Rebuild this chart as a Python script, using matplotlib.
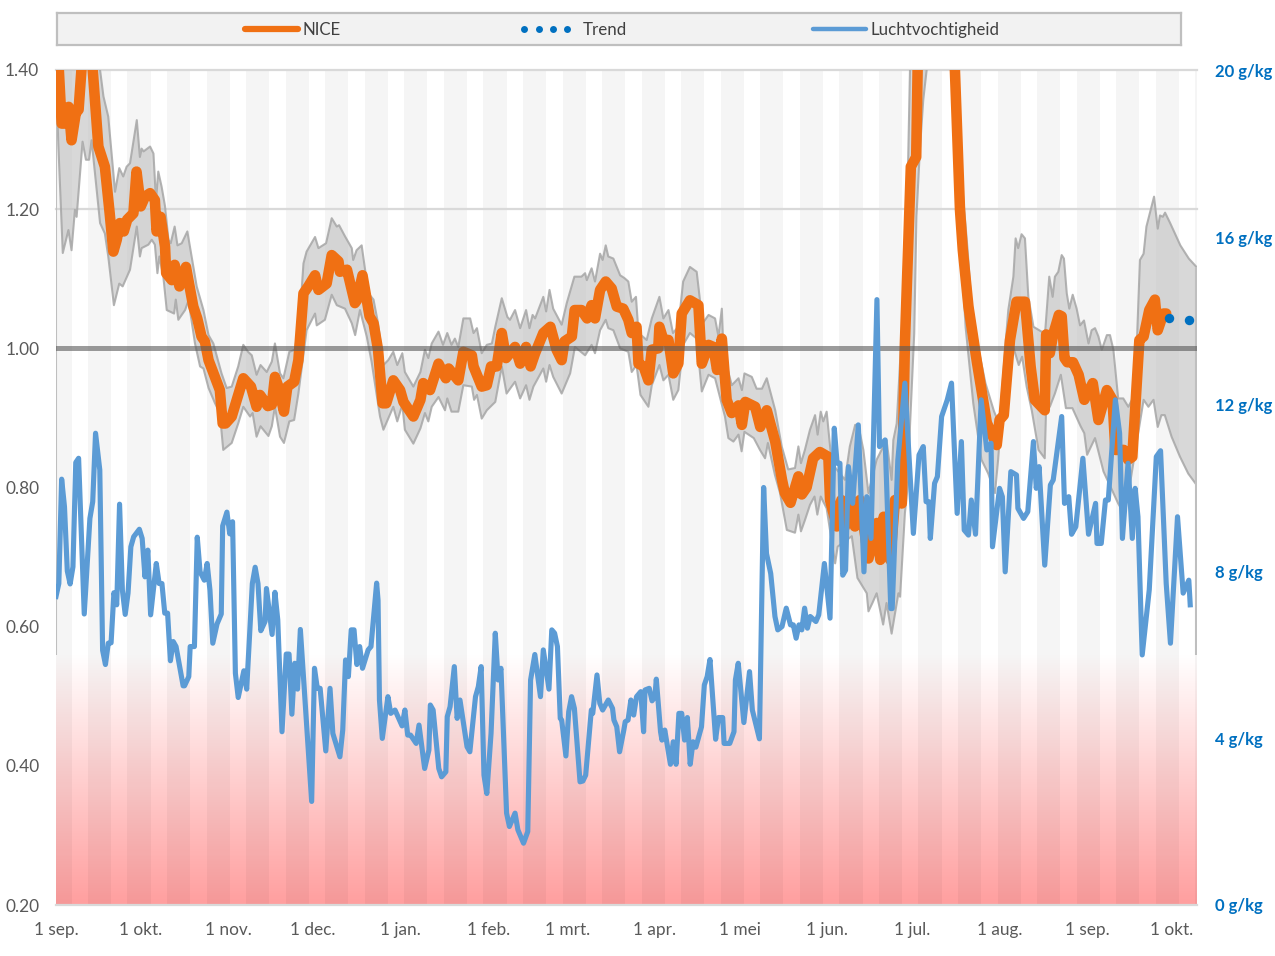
import matplotlib
matplotlib.use("Agg")
import matplotlib.pyplot as plt
import numpy as np

plt.rcParams['font.family'] = ['Lato', 'DejaVu Sans']

# dagen sinds 1 sep.
maand_labels = ["1 sep.", "1 okt.", "1 nov.", "1 dec.", "1 jan.", "1 feb.", "1 mrt.", "1 apr.", "1 mei", "1 jun.", "1 jul.", "1 aug.", "1 sep.", "1 okt."]
maand_dagen = [0, 30, 61, 91, 122, 153, 181, 212, 242, 273, 303, 334, 365, 395]
laatste_dag = 403.9
basis_band = 0.56

nice_dagen = [0, 1, 2, 3, 4.5, 5.5, 7, 8, 9, 10, 12, 13, 15, 17.3, 19, 20.3, 21.5, 22.6, 24, 25.2, 27.4, 28.5, 30, 31.5, 33.3, 35, 35.6, 37, 38.6, 39, 41, 42, 43.7, 46, 48.6, 50, 51.5, 52.7, 54, 58, 59, 60, 62.2, 66.3, 69, 71, 72.2, 75, 76.4, 77.5, 78.7, 80.7, 81.9, 84.3, 85.8, 87.6, 89.3, 91.7, 92.9, 95.8, 97.6, 100, 100.5, 103, 105.8, 106.5, 108.5, 111, 112.4, 114, 115.6, 116.9, 119.4, 121.8, 123, 126.5, 129, 130, 132.4, 135.4, 138, 139, 142.4, 144.2, 147.2, 147.8, 150.7, 152.5, 154, 156, 157.8, 159.3, 162.5, 164.3, 166.4, 168, 169.6, 172.5, 175, 177.2, 179, 180, 182.6, 183.6, 186, 188, 189.6, 190.8, 192.6, 194.6, 196.7, 198.5, 200.8, 202.6, 203.8, 205.5, 206.2, 208, 209.7, 210.9, 213.2, 213.6, 215, 216.8, 218.5, 220.3, 221.5, 224.4, 227.4, 228.6, 231, 232.7, 234, 235.7, 237.4, 239.2, 241.6, 242.8, 244, 247.5, 249.3, 251.6, 254.6, 257, 258, 260, 262.8, 264, 265.7, 268, 270.4, 273.4, 274, 276.4, 278, 279.3, 281.6, 282.8, 284.6, 287.6, 290.6, 291.8, 293, 295.3, 297, 299.4, 300.5, 302.6, 304.5, 305, 310, 317, 318.2, 320, 321, 323, 326, 329.5, 333, 334, 335.5, 337.7, 340, 343, 345, 346.5, 350, 350.5, 351.8, 353, 355, 356, 357, 358, 360, 362, 364, 367, 369, 372, 374, 375, 378, 379.5, 381, 383.5, 385, 387, 389, 390, 392, 393]
nice = [1.46, 1.40, 1.323, 1.323, 1.347, 1.299, 1.338, 1.343, 1.40, 1.47, 1.47, 1.40, 1.29, 1.261, 1.194, 1.139, 1.156, 1.18, 1.168, 1.185, 1.194, 1.254, 1.204, 1.218, 1.223, 1.213, 1.168, 1.189, 1.146, 1.108, 1.098, 1.12, 1.089, 1.117, 1.06, 1.043, 1.017, 1.01, .983, .94, .892, .892, .902, .957, .945, .916, .933, .917, .919, .959, .945, .909, .945, .952, .983, 1.079, 1.089, 1.105, 1.084, 1.093, 1.134, 1.125, 1.11, 1.113, 1.065, 1.069, 1.105, 1.046, 1.036, .998, .921, .921, .954, .94, .923, .902, .926, .95, .94, .978, .957, .971, .954, .995, .99, .974, .945, .947, .974, .974, 1.022, .986, 1.002, .978, 1.002, .974, .993, 1.022, 1.031, .998, .983, 1.01, 1.017, 1.055, 1.055, 1.043, 1.062, 1.043, 1.084, 1.096, 1.086, 1.06, 1.057, 1.041, 1.022, 1.031, .978, .974, .954, .998, 1.0, 1.031, 1.012, 1.012, .964, .978, 1.05, 1.069, 1.062, .978, 1.005, 1.002, .969, 1.014, .926, .907, .918, .89, .923, .916, .887, .911, .866, .811, .792, .778, .816, .79, .8, .842, .851, .844, .782, .744, .782, .744, .782, .744, .782, .698, .749, .696, .758, .696, .782, .777, 1.007, 1.261, 1.275, 1.40, 1.6, 1.6, 1.40, 1.199, 1.141, 1.06, .98, .893, .861, .897, .904, 1.012, 1.067, 1.067, .974, .926, .911, 1.02, .993, 1.02, 1.048, 1.046, .986, .98, .98, .962, .926, .95, .897, .94, .926, .854, .854, .84, .844, 1.012, 1.017, 1.055, 1.07, 1.026, 1.05, 1.05]

trend_dagen = [394, 401]
trend = [1.044, 1.041]

boven_dagen = [0, 15.6, 16.8, 18.5, 20.9, 22.4, 23.8, 25, 26.2, 28.6, 29.7, 30.3, 31, 33.3, 34.5, 35.4, 36.2, 37.4, 38.6, 39.8, 40.6, 42, 43, 44.5, 46.5, 48.4, 49.8, 52.2, 54, 55.7, 58.6, 60.4, 62.2, 64.5, 66.3, 68, 69.3, 71, 72.4, 74.6, 76.4, 77.5, 79.3, 80.5, 82.6, 84.6, 86.4, 87.6, 88.7, 91.7, 92.9, 95.6, 97.6, 99.4, 100.2, 102.3, 104.7, 105.2, 106.4, 108.2, 110.6, 112.4, 114, 115.9, 117.6, 119.4, 120.8, 122.6, 123.5, 126.5, 129, 130.6, 131.8, 133, 135.4, 137, 138.5, 140, 141.2, 142.4, 144.2, 146.6, 147.8, 149, 150.7, 152.5, 154.3, 155.5, 157.8, 159.8, 160.7, 162.5, 164.3, 166.4, 167.6, 168.7, 169.6, 172.5, 173.5, 174.7, 176, 179, 180.8, 183.5, 186, 187.3, 187.9, 189.6, 190.8, 192.6, 193.5, 194.6, 195.5, 197.3, 199.7, 201.2, 202.6, 203.8, 205.3, 206.2, 209.1, 210.9, 213.6, 215, 216.8, 218.4, 220.3, 222, 224.4, 226.8, 228.9, 231, 233.3, 234.5, 235.7, 236.3, 239.2, 241.6, 242.8, 243.7, 246.3, 248, 249.9, 251.6, 254.6, 256.9, 259.2, 261.6, 262.8, 263.7, 265.1, 266.9, 268.7, 269.6, 270.7, 271.6, 272.8, 274.6, 279.3, 281, 282.9, 284, 285.8, 287.6, 290.5, 294, 295.8, 296.4, 297.6, 300, 301, 302.3, 306, 314, 321, 322.7, 323.9, 326.5, 329, 332, 334, 336, 337.1, 338.9, 339.7, 340.6, 341.8, 343, 344.2, 346, 350.1, 351.6, 352.8, 353.6, 354.8, 356, 356.8, 357.8, 358.7, 359.9, 361.3, 362.5, 363.9, 365.5, 366.6, 367.8, 369, 370.2, 372, 373.1, 374.3, 376, 377.8, 379.6, 381.4, 382.6, 383.7, 385, 386, 388.7, 390, 390.8, 391.8, 392.6, 394.4, 398, 401, 403.7]
boven = [1.5, 1.40, 1.362, 1.333, 1.225, 1.259, 1.247, 1.261, 1.266, 1.328, 1.275, 1.287, 1.283, 1.29, 1.28, 1.213, 1.254, 1.232, 1.204, 1.156, 1.151, 1.175, 1.148, 1.151, 1.168, 1.122, 1.089, 1.055, 1.019, 1.007, .964, .943, .945, .974, 1.005, .995, .99, .962, .976, .966, .981, 1.007, .964, .957, .995, .998, 1.05, 1.122, 1.139, 1.16, 1.144, 1.151, 1.187, 1.175, 1.177, 1.161, 1.144, 1.127, 1.141, 1.148, 1.079, 1.07, 1.036, .976, .983, .995, .976, .993, .966, .945, .966, .998, .986, 1.007, 1.024, 1.005, 1.022, 1.005, 1.014, 1.002, 1.043, 1.043, 1.022, 1.029, .993, 1.005, 1.007, 1.031, 1.072, 1.045, 1.041, 1.055, 1.029, 1.055, 1.029, 1.048, 1.043, 1.074, 1.053, 1.084, 1.057, 1.034, 1.065, 1.103, 1.103, 1.108, 1.098, 1.115, 1.096, 1.136, 1.127, 1.148, 1.132, 1.129, 1.105, 1.101, 1.096, 1.067, 1.074, 1.022, 1.012, 1.043, 1.074, 1.043, 1.055, 1.022, 1.031, 1.096, 1.117, 1.11, 1.036, 1.048, 1.043, 1.017, 1.057, .993, .947, .957, .94, .964, .959, .942, .942, .957, .911, .859, .826, .828, .859, .835, .854, .883, .904, .876, .909, .895, .909, .835, .811, .859, .89, .89, .854, .792, .84, .868, .811, .868, .892, 1.07, 1.14, 1.40, 1.7, 1.7, 1.223, 1.141, 1.07, 1.0, .95, .91, .89, 1.0, 1.055, 1.103, 1.158, 1.144, 1.164, 1.158, 1.074, 1.031, 1.021, 1.103, 1.074, 1.103, 1.11, 1.134, 1.129, 1.079, 1.057, 1.077, 1.057, 1.033, 1.04, 1.007, 1.026, 1.029, 1.017, .998, 1.019, 1.019, .998, .928, .928, .916, .93, 1.007, 1.127, 1.136, 1.175, 1.218, 1.172, 1.191, 1.189, 1.195, 1.18, 1.148, 1.129, 1.117]

onder_dagen = [0, 0.8, 2.4, 4.4, 5.5, 6.7, 7.3, 9.4, 10.6, 11.7, 12.6, 15.6, 17.3, 18.5, 20.5, 22.4, 23.6, 26.2, 28.6, 29.7, 30.3, 32.7, 33.9, 35, 35.9, 36.6, 38, 39.2, 41.8, 42.4, 43.3, 45.7, 46.9, 49.2, 51, 52.2, 54, 56.3, 58, 59.2, 62.2, 64.5, 66.3, 68.7, 69.6, 71, 72.4, 75.2, 76.4, 77.5, 79.3, 80.7, 82.6, 84.3, 85.8, 88.7, 91.7, 92.3, 95.2, 97.6, 99.4, 102.3, 104.7, 105.9, 107.6, 110, 111.7, 114.7, 115.9, 119.4, 120.8, 122.6, 123.5, 126.5, 129, 130.6, 131.8, 133, 135.4, 137.7, 138.5, 140, 142.4, 144.2, 147.2, 148, 149, 150.7, 152.5, 155.5, 157.8, 159.5, 162.5, 164.3, 166.4, 167.6, 169, 172.5, 173.5, 174.7, 176, 179, 182, 183.7, 187.3, 189.6, 190.8, 192.6, 194.6, 195.5, 197.3, 199.7, 202.6, 203.8, 205.5, 206.9, 209.7, 210.9, 213.6, 215, 216.8, 218.5, 220.3, 222, 224.4, 226.8, 228.6, 231, 233.3, 236.8, 238, 239.8, 241.6, 242.7, 243.7, 247, 249.2, 251, 252, 254.5, 256.3, 258.7, 261.6, 262.8, 263.7, 265.1, 266.9, 268.5, 269.5, 270.7, 272.8, 275.8, 276.7, 281.7, 283.7, 287, 287.6, 289, 290.5, 292.8, 294, 295.8, 298.2, 298.8, 300.5, 301.7, 302.3, 303.8, 304.6, 305.8, 307, 308.2, 312, 318, 320, 322, 324.7, 327.6, 330, 332.4, 333.5, 334.2, 335.9, 337.7, 339, 340.8, 342, 343.6, 345.4, 347.8, 350, 350.5, 351.8, 353.6, 355.7, 357.5, 359.8, 362.7, 364, 365, 367.8, 370.8, 376, 378, 380, 385, 386.7, 388.5, 390, 391.3, 392.5, 394.9, 397.9, 400.8, 403.7]
onder = [1.40, 1.295, 1.137, 1.17, 1.141, 1.199, 1.189, 1.297, 1.271, 1.271, 1.299, 1.18, 1.165, 1.132, 1.062, 1.093, 1.089, 1.113, 1.175, 1.132, 1.144, 1.149, 1.156, 1.149, 1.108, 1.132, 1.103, 1.055, 1.05, 1.07, 1.041, 1.055, 1.069, 1.007, .974, .971, .943, .921, .907, .854, .864, .892, .916, .902, .907, .873, .888, .874, .888, .916, .873, .864, .895, .897, .935, 1.026, 1.05, 1.033, 1.041, 1.077, 1.062, 1.057, 1.036, 1.019, 1.055, 1.017, .981, .902, .883, .916, .895, .919, .883, .863, .885, .907, .895, .916, .93, .911, .928, .909, .909, .947, .945, .926, .933, .899, .911, .923, .974, .935, .952, .928, .947, .926, .945, .971, .952, .976, .959, .935, .964, 1.002, .99, 1.005, .993, 1.026, 1.041, 1.029, 1.026, 1.0, .995, .966, .976, .933, .916, .947, .976, .954, .962, .926, .94, 1.005, 1.022, 1.014, .938, .962, .957, .902, .871, .866, .876, .852, .88, .871, .854, .842, .864, .818, .792, .739, .735, .761, .737, .753, .775, .787, .761, .787, .77, .691, .715, .73, .67, .648, .622, .634, .648, .603, .634, .59, .648, .643, .763, .811, .888, 1.021, 1.19, 1.285, 1.357, 1.40, 1.7, 1.5, 1.17, 1.03, .921, .84, .82, .792, .84, .878, .926, .983, 1.0, .976, .988, .945, .911, .854, .842, .916, .916, .935, .962, .914, .914, .888, .878, .847, .871, .823, .777, .763, .801, .926, .916, .926, .887, .904, .904, .873, .844, .82, .804]

vocht_dagen = [0, 1, 2, 3, 4, 5, 6, 7, 8, 10, 12, 13, 14, 15.5, 16.5, 17.5, 18.5, 19.5, 20.5, 21.5, 22.5, 23.5, 24.5, 25.5, 26.5, 27.5, 29.5, 30.5, 31.5, 32.5, 33.5, 35.5, 36.5, 37.5, 38.5, 39.5, 40.5, 41.5, 42.5, 45, 45.5, 47, 47.5, 49, 50, 51, 52.5, 53.5, 54.5, 55.5, 57, 58.5, 59, 60.5, 61.5, 62.5, 63.5, 64.5, 66.5, 67.5, 69.5, 70.5, 71.5, 72.5, 74, 74.5, 76.5, 77.5, 78.5, 80, 81.5, 82.5, 83.5, 84.5, 85.5, 86.5, 90.5, 91.5, 92.5, 93.5, 95.5, 97, 98, 100.5, 101.5, 102.5, 103.5, 104.5, 105.5, 106.5, 107.5, 108.5, 110.5, 111.5, 113.5, 114, 114.5, 115.5, 117.5, 118.5, 120, 122.5, 123.5, 124.5, 125.5, 127.5, 128.5, 130.5, 132, 132.5, 133.5, 135.5, 136.5, 138, 138.5, 139.5, 141, 142, 143, 145.5, 146.5, 148.5, 149.5, 150.5, 151.5, 152.5, 154, 155.5, 156.5, 157.5, 159.5, 160.5, 162.5, 163.5, 165.5, 167, 168, 169.5, 171.5, 172.5, 174.5, 175.5, 176.5, 177.5, 178.5, 179, 180.5, 181.5, 182.5, 183.5, 185.5, 186.5, 187.5, 189.5, 190, 191.5, 192.5, 193.5, 195.5, 197, 197.5, 198.5, 199.5, 201, 201.5, 202.5, 203.5, 204.5, 205.5, 207, 208, 208.5, 210, 211, 212, 212.5, 214, 214.5, 215.5, 217.5, 218.5, 219.5, 220.5, 221.5, 222.5, 223.5, 224.5, 225.5, 226.5, 228.5, 229.5, 230.5, 231.5, 233.5, 234.5, 236, 236.5, 238.5, 240, 240.5, 241.5, 243.5, 245.5, 246.5, 249, 250.5, 251.5, 253, 254.5, 255.5, 257, 258.5, 260, 261, 262, 263, 264, 265, 266, 267, 269, 270, 272, 274, 275.5, 276.5, 277.5, 278.5, 279.5, 280.5, 282, 284, 286, 287, 288.5, 290.6, 291.5, 293.5, 295.5, 296, 298, 300.5, 301.5, 303.5, 305.5, 307, 308, 309, 309.5, 311, 312, 313.5, 315.5, 317, 319, 320.5, 321.5, 323, 324, 325.5, 327.5, 329.5, 331, 331.5, 334, 335, 336, 338, 340, 340.5, 342.5, 344, 346, 347, 348, 350, 352, 353, 356, 357, 358.5, 359.5, 361, 363.5, 365.5, 368, 368.5, 370, 371.5, 372.5, 375, 376.5, 377.5, 379.5, 381, 382, 383, 384.5, 387, 389.5, 391, 393, 394.5, 397, 399, 401, 401.5]
vocht = [7.39, 7.7, 10.2, 9.54, 8.0, 7.69, 8.1, 10.6, 10.7, 6.97, 9.26, 9.66, 11.3, 10.42, 6.1, 5.76, 6.27, 6.28, 7.48, 7.19, 9.6, 7.54, 6.96, 7.47, 8.58, 8.82, 9.0, 8.78, 7.86, 8.5, 6.95, 8.18, 7.7, 7.7, 6.99, 6.99, 5.85, 6.31, 6.19, 5.25, 5.25, 5.47, 6.19, 6.19, 8.81, 7.98, 7.78, 8.18, 7.54, 6.27, 6.73, 6.97, 9.08, 9.41, 8.89, 9.18, 5.55, 4.97, 5.61, 5.17, 7.7, 8.09, 7.7, 6.57, 6.79, 7.58, 6.48, 7.49, 6.83, 4.15, 6.01, 6.01, 4.57, 5.79, 5.17, 6.6, 2.48, 5.67, 5.19, 5.19, 3.69, 5.19, 4.11, 3.55, 4.19, 5.87, 5.47, 6.59, 6.59, 5.76, 6.19, 5.67, 6.11, 6.19, 7.71, 7.3, 4.91, 3.99, 4.99, 4.59, 4.67, 4.29, 4.67, 4.07, 4.07, 3.87, 4.31, 3.27, 3.71, 4.79, 4.67, 3.27, 3.07, 3.19, 4.51, 4.75, 5.71, 4.47, 4.91, 3.79, 3.67, 4.99, 5.23, 5.71, 3.11, 2.67, 4.11, 6.51, 5.39, 5.67, 2.2, 1.88, 2.2, 1.8, 1.48, 1.76, 5.39, 6.0, 4.99, 6.11, 5.17, 6.59, 6.51, 6.19, 4.47, 4.43, 3.57, 4.63, 4.99, 4.71, 2.95, 2.97, 3.11, 4.67, 4.59, 5.51, 4.83, 4.67, 4.91, 4.71, 4.43, 4.27, 3.67, 4.19, 4.39, 4.43, 4.91, 4.55, 4.99, 5.11, 4.15, 5.15, 5.19, 4.89, 4.99, 5.41, 4.15, 3.95, 4.19, 3.37, 3.91, 3.37, 4.59, 4.59, 3.95, 4.49, 3.37, 3.91, 3.78, 4.27, 5.27, 5.47, 5.88, 3.97, 4.49, 4.49, 3.87, 3.87, 4.15, 5.39, 5.79, 4.37, 5.59, 4.67, 3.98, 10.0, 8.42, 7.94, 6.91, 6.59, 6.67, 7.11, 6.71, 6.71, 6.39, 6.71, 6.59, 7.11, 6.63, 6.91, 6.79, 6.95, 8.18, 6.87, 11.42, 10.58, 10.58, 7.9, 8.02, 10.5, 9.62, 11.5, 7.98, 9.78, 8.78, 14.5, 10.98, 11.14, 7.1, 7.1, 10.66, 12.5, 11.3, 8.9, 10.78, 10.98, 9.66, 9.66, 8.78, 10.1, 10.26, 11.7, 12.1, 12.5, 9.38, 11.1, 8.98, 8.86, 9.7, 8.88, 12.1, 10.9, 11.06, 8.58, 9.98, 9.78, 7.98, 10.38, 10.3, 9.5, 9.26, 9.42, 11.1, 9.98, 10.5, 8.14, 10.06, 10.18, 11.7, 9.62, 9.78, 8.88, 9.06, 10.7, 8.88, 9.62, 8.66, 8.66, 9.7, 9.7, 12.1, 11.3, 8.78, 10.58, 8.78, 9.98, 9.3, 5.99, 7.55, 10.74, 10.88, 7.7, 6.27, 9.3, 7.47, 7.78, 7.19]

fig = plt.figure(figsize=(12.75, 9.56), dpi=100)
ax = fig.add_axes([56 / 1275, 1 - 905 / 956, 1141 / 1275, 835 / 956])

# rode zone onderaan, loopt naar boven weg
rood = np.zeros((200, 1, 4))
rood[:, :, 0] = 1.0
rood[:, :, 1] = 0.62
rood[:, :, 2] = 0.62
rood[:, 0, 3] = np.linspace(0, 1, 200)
ax.imshow(rood, extent=[0, laatste_dag, 0.2, basis_band], aspect="auto", zorder=1)

# weekstrepen op de achtergrond
for start in np.arange(-2.7, laatste_dag, 14):
    ax.axvspan(start, start + 8.2, color="black", alpha=0.04, lw=0, zorder=2)

for y in [1.4, 1.2, 0.2]:
    ax.axhline(y, color="#d9d9d9", lw=1.6, zorder=3, clip_on=False)

band_x = boven_dagen + onder_dagen[::-1]
band_y = boven + onder[::-1]
ax.fill(band_x, band_y, color="#bfbfbf", alpha=0.6, lw=0, zorder=4)
ax.plot(boven_dagen, boven, color="#a6a6a6", lw=1.5, alpha=0.85, zorder=5)
ax.plot(onder_dagen, onder, color="#a6a6a6", lw=1.5, alpha=0.85, zorder=5)
ax.vlines([0, boven_dagen[-1]], basis_band, [1.4, boven[-1]], color="#bfbfbf", lw=1.5, zorder=5)

ax.plot(nice_dagen, nice, color="#f07013", lw=7.6, solid_capstyle="round", solid_joinstyle="round", zorder=6)
ax.axhline(1.0, color="#595959", lw=3.6, alpha=0.6, zorder=7)
ax.plot(trend_dagen, trend, "o", color="#0070c0", ms=6.8, mew=0, zorder=8)

ax.set_xlim(0, laatste_dag)
ax.set_ylim(0.2, 1.4)
ax.set_xticks(maand_dagen)
ax.set_xticklabels(maand_labels)
ax.set_yticks(np.arange(0.2, 1.41, 0.2))
ax.set_yticklabels(["%.2f" % v for v in np.arange(0.2, 1.41, 0.2)])
ax.tick_params(axis="x", length=0, pad=12, labelsize=12.4, labelcolor="#595959")
ax.tick_params(axis="y", length=0, pad=12, labelsize=12.4, labelcolor="#595959")
for s in ax.spines.values():
    s.set_visible(False)

ax2 = ax.twinx()
ax2.plot(vocht_dagen, vocht, color="#5b9bd5", lw=3.7, solid_joinstyle="round", zorder=9)
ax2.set_ylim(0, 20)
ax2.set_yticks([0, 4, 8, 12, 16, 20])
ax2.set_yticklabels(["0 g/kg", "4 g/kg", "8 g/kg", "12 g/kg", "16 g/kg", "20 g/kg"], fontweight="bold")
ax2.tick_params(axis="y", length=0, pad=13, labelsize=12, labelcolor="#0070c0")
for s in ax2.spines.values():
    s.set_visible(False)

# legenda als eigen balk
leg = fig.add_axes([57 / 1275, 1 - 45 / 956, 1124 / 1275, 32 / 956])
leg.set_xlim(57, 1181)
leg.set_ylim(0, 1)
leg.set_facecolor("#f2f2f2")
leg.set_xticks([])
leg.set_yticks([])
for s in leg.spines.values():
    s.set_color("#bfbfbf")
    s.set_linewidth(1.6)
leg.plot([245, 298], [0.5, 0.5], color="#f07013", lw=4.5, solid_capstyle="round")
leg.text(303, 0.47, "NICE", va="center", fontsize=12.2, color="#404040")
leg.plot([524, 539, 553, 567], [0.5] * 4, "o", color="#0070c0", ms=5, mew=0)
leg.text(583, 0.47, "Trend", va="center", fontsize=12.2, color="#404040")
leg.plot([813, 866], [0.5, 0.5], color="#5b9bd5", lw=3.2, solid_capstyle="round")
leg.text(871, 0.47, "Luchtvochtigheid", va="center", fontsize=12.2, color="#404040")

fig.savefig("out.png", dpi=100)
